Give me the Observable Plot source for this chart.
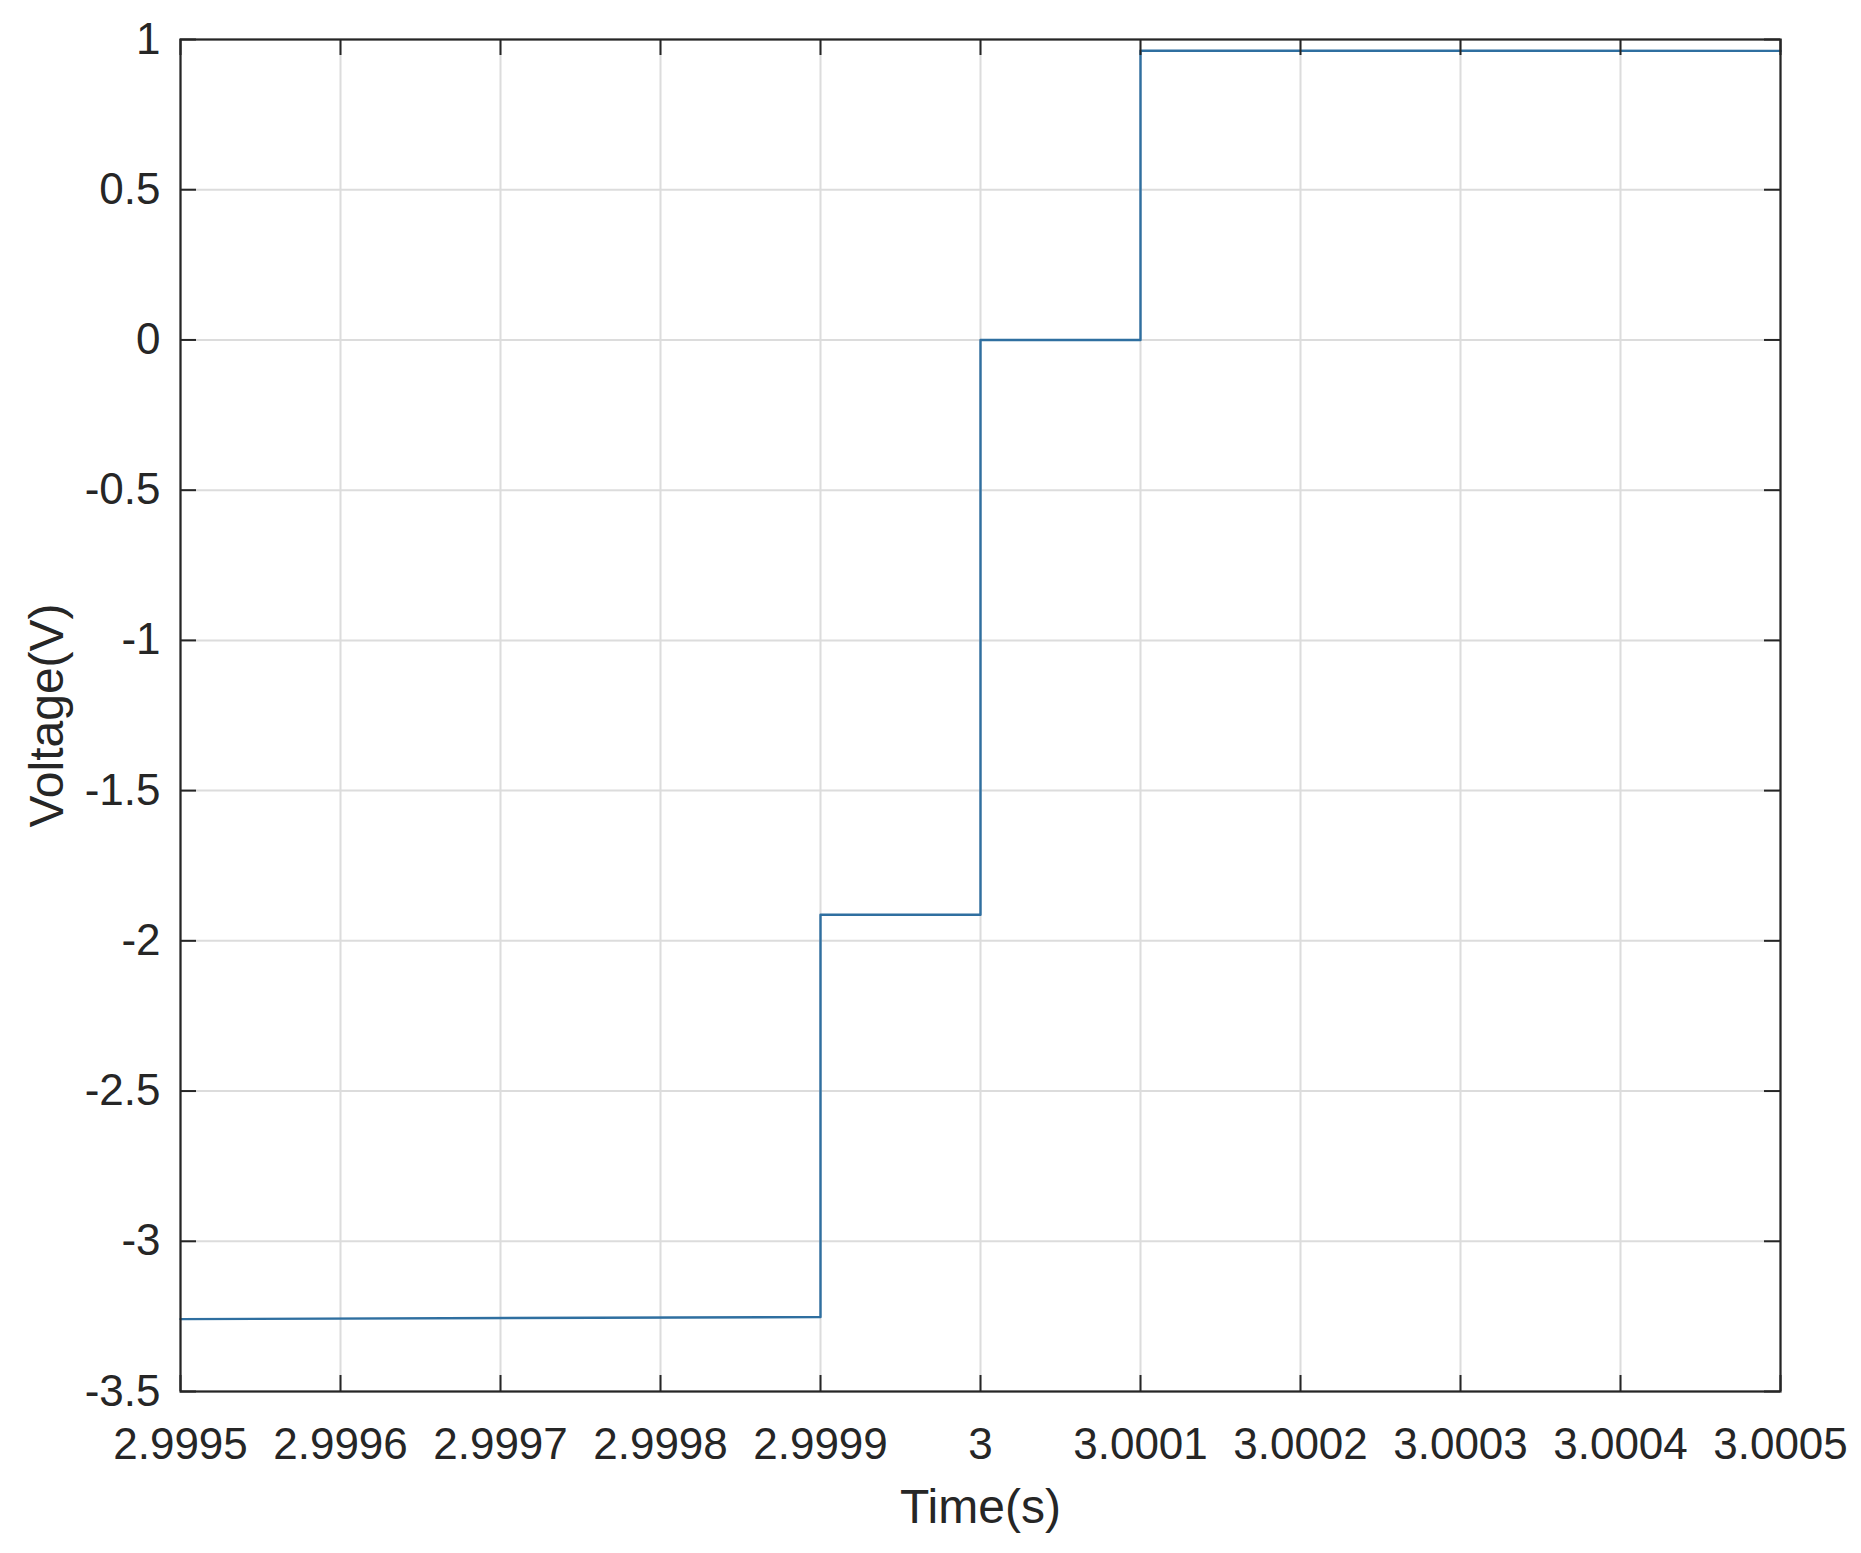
<!DOCTYPE html>
<html>
<head>
<meta charset="utf-8">
<script src="https://cdn.jsdelivr.net/npm/d3@7"></script>
<script src="https://cdn.jsdelivr.net/npm/@observablehq/plot@0.6"></script>
<style>
  html, body { margin: 0; padding: 0; background: #ffffff; }
  #chart svg { display: block; }
</style>
</head>
<body>
<div id="chart"></div>
<script>
// Data
const times = [2.9995, 2.9999, 2.9999, 3.0, 3.0, 3.0001, 3.0001, 3.0005];
const volts = [-3.259, -3.252, -1.913, -1.913, 0, 0, 0.963, 0.962];

const xTicks = [2.9995, 2.9996, 2.9997, 2.9998, 2.9999, 3.0, 3.0001, 3.0002, 3.0003, 3.0004, 3.0005];
const xTickLabels = ["2.9995", "2.9996", "2.9997", "2.9998", "2.9999", "3", "3.0001", "3.0002", "3.0003", "3.0004", "3.0005"];
const yTicks = [1, 0.5, 0, -0.5, -1, -1.5, -2, -2.5, -3, -3.5];
const yTickLabels = ["1", "0.5", "0", "-0.5", "-1", "-1.5", "-2", "-2.5", "-3", "-3.5"];

const xLabel = "Time(s)";
const yLabel = "Voltage(V)";

const xLabelMap = new Map(xTicks.map((v, i) => [v, xTickLabels[i]]));
const yLabelMap = new Map(yTicks.map((v, i) => [v, yTickLabels[i]]));

const W = 1861, H = 1553;
const mL = 180, mR = 81, mT = 39, mB = 162;
const plotW = W - mL - mR, plotH = H - mT - mB;
const tickLen = 16;
const textColor = "#262626";
const fs = 44;
const labelFs = 48;

const chart = Plot.plot({
  width: W,
  height: H,
  marginLeft: mL,
  marginRight: mR,
  marginTop: mT,
  marginBottom: mB,
  style: { fontFamily: "'Liberation Sans', Arial, Helvetica, sans-serif", fontSize: fs + "px", color: textColor, background: "#ffffff" },
  x: { domain: [2.9995, 3.0005] },
  y: { domain: [-3.5, 1] },
  marks: [
    Plot.gridX(xTicks, { stroke: "#dcdcdc", strokeOpacity: 1, strokeWidth: 2 }),
    Plot.gridY(yTicks, { stroke: "#dcdcdc", strokeOpacity: 1, strokeWidth: 2 }),
    Plot.line(volts, { x: times, y: volts, stroke: "#2f6fa0", strokeWidth: 2.4 }),
    Plot.frame({ stroke: textColor, strokeWidth: 2.2 }),
    // inward ticks on all four sides
    Plot.tickX(xTicks, { x: d => d, insetTop: plotH - tickLen, stroke: textColor, strokeWidth: 2 }),
    Plot.tickX(xTicks, { x: d => d, insetBottom: plotH - tickLen, stroke: textColor, strokeWidth: 2 }),
    Plot.tickY(yTicks, { y: d => d, insetRight: plotW - tickLen, stroke: textColor, strokeWidth: 2 }),
    Plot.tickY(yTicks, { y: d => d, insetLeft: plotW - tickLen, stroke: textColor, strokeWidth: 2 }),
    Plot.axisX(xTicks, { anchor: "bottom", tickSize: 0, tickPadding: 36, tickFormat: d => xLabelMap.get(d), fontSize: fs, fill: textColor, label: null }),
    Plot.axisY(yTicks, { anchor: "left", tickSize: 0, tickPadding: 20, tickFormat: d => yLabelMap.get(d), fontSize: fs, fill: textColor, label: null }),
    Plot.text([xLabel], { frameAnchor: "bottom", lineAnchor: "middle", textAnchor: "middle", dy: 116, text: d => d, fontSize: labelFs, fill: textColor }),
    Plot.text([yLabel], { frameAnchor: "left", lineAnchor: "middle", textAnchor: "middle", dx: -133, rotate: -90, text: d => d, fontSize: labelFs, fill: textColor })
  ]
});
document.getElementById("chart").appendChild(chart);
</script>
</body>
</html>
